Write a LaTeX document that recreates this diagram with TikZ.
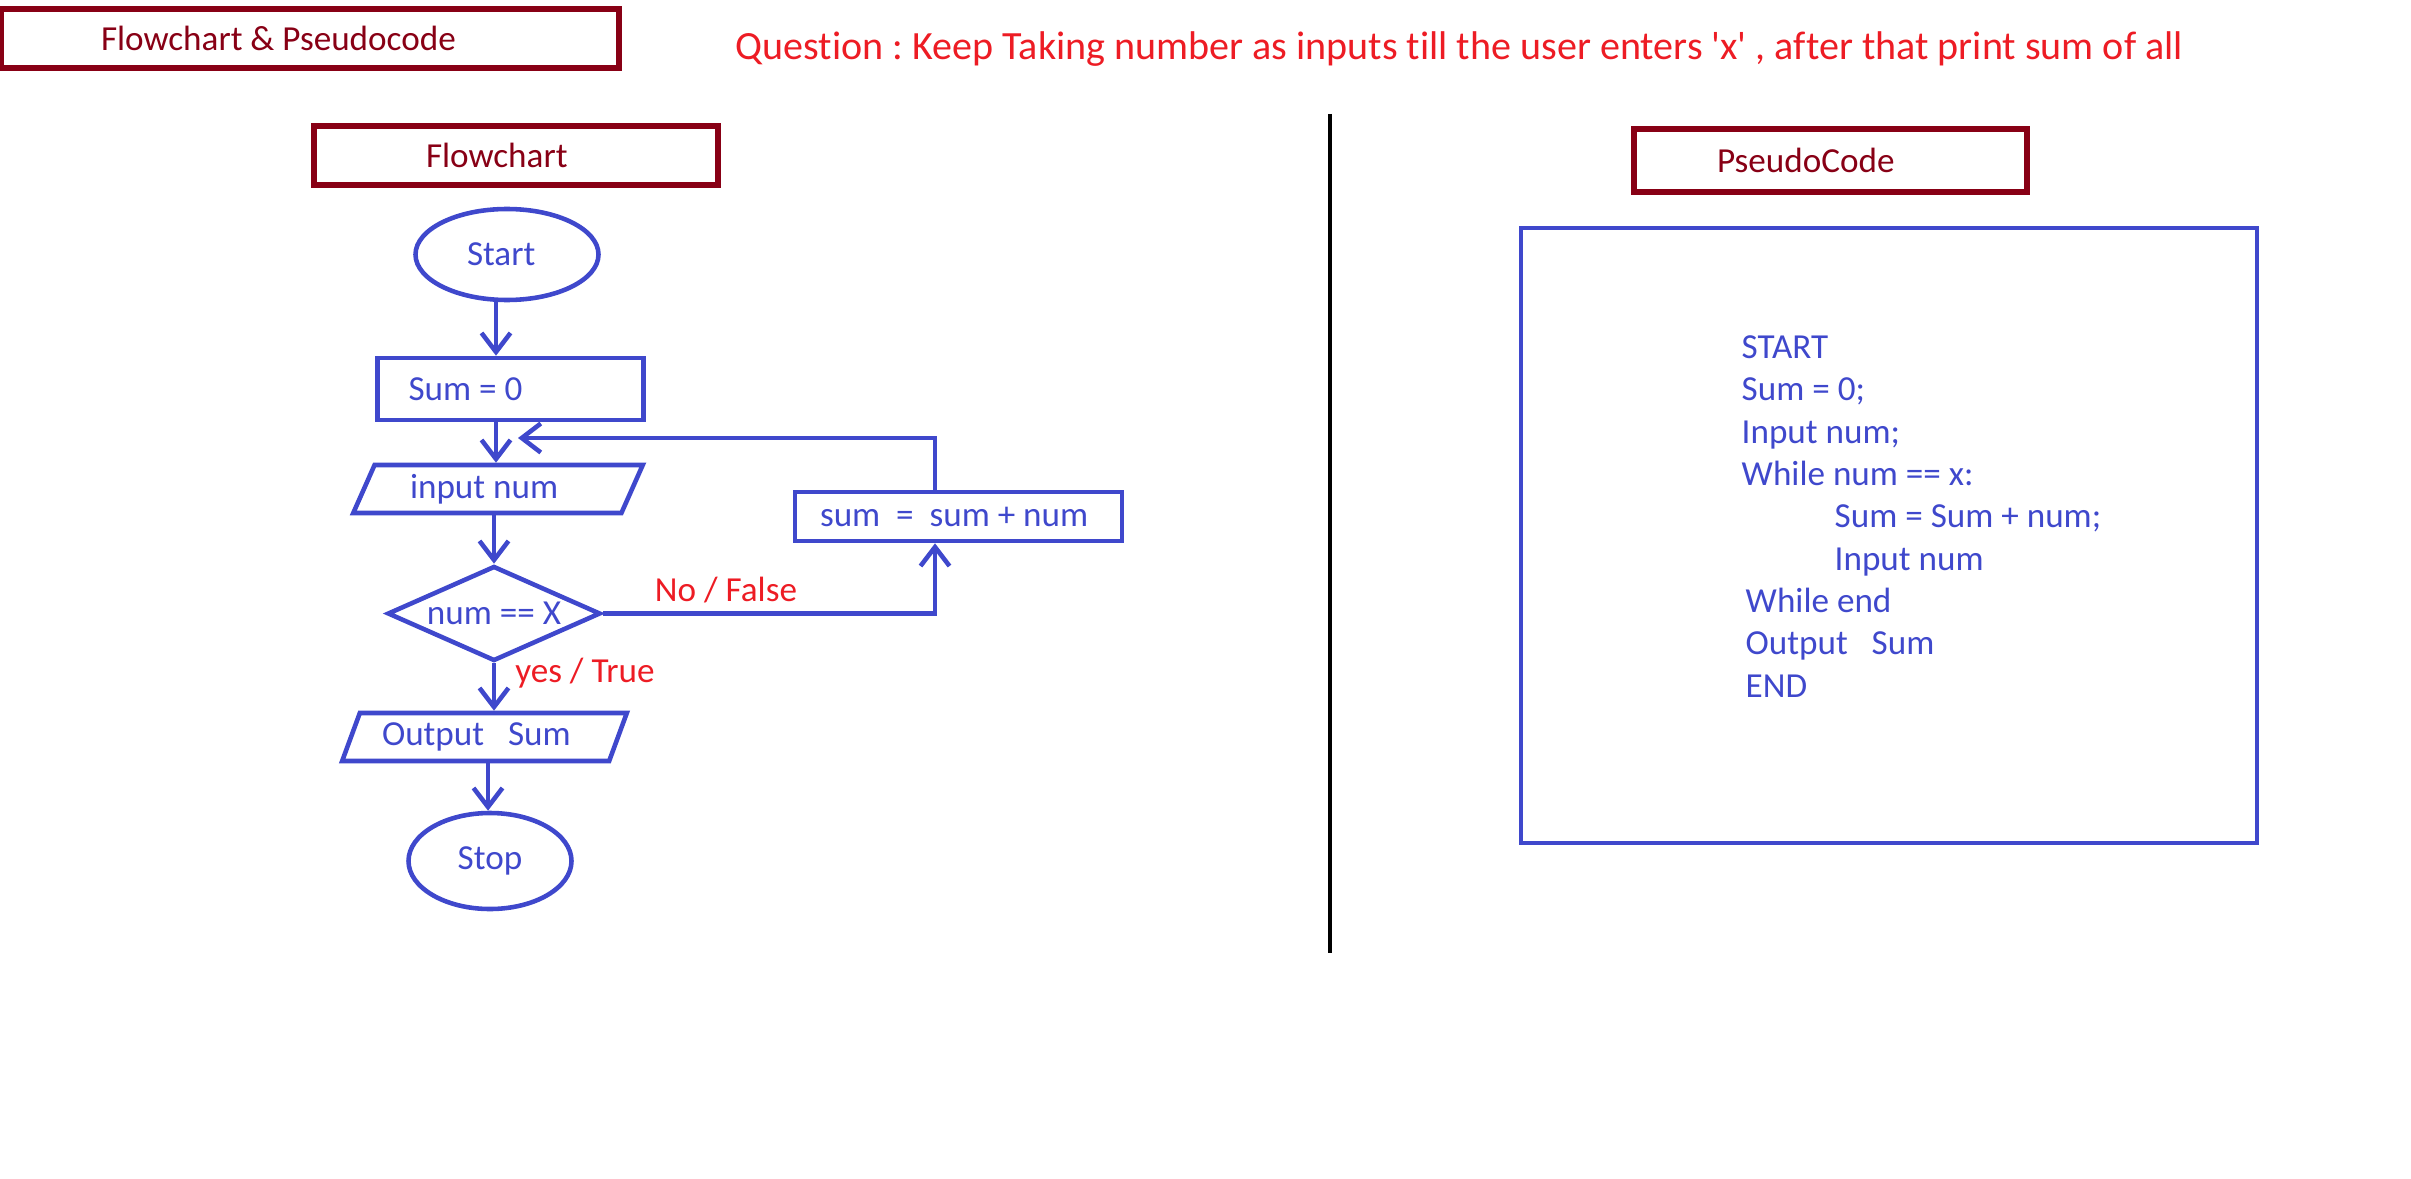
\documentclass[tikz,border=0pt]{standalone}
\usepackage{fontspec}
\setmainfont{Carlito}[Ligatures=NoCommon]
\usepackage{tikz}
\usetikzlibrary{positioning,shapes.geometric,arrows.meta}
\definecolor{fcblue}{RGB}{63,72,204}
\definecolor{hdrred}{RGB}{136,0,21}
\definecolor{lblred}{RGB}{237,28,36}
\frenchspacing
\tikzset{hdr/.style = {rectangle,draw=hdrred,line width=1.6pt,text=hdrred,inner ysep=0pt}}
\tikzset{blk/.style = {rectangle,draw=fcblue,line width=1.3pt,text=fcblue,inner ysep=0pt}}
\tikzset{term/.style = {ellipse,draw=fcblue,line width=1.3pt,text=fcblue,inner sep=0pt}}
\tikzset{io/.style = {trapezium,trapezium left angle=63,trapezium right angle=117,trapezium stretches=true,draw=fcblue,line width=1.3pt,text=fcblue,inner sep=0pt}}
\tikzset{cond/.style = {diamond,aspect=2.24,draw=fcblue,line width=1.3pt,text=fcblue,inner sep=0pt}}
\tikzset{arr/.style = {draw=fcblue,line width=1.3pt,-{Straight Barb[length=1.9mm,width=2.9mm]}}}
\tikzset{lbl/.style = {text=lblred,inner sep=0pt}}

\begin{document}
\begin{tikzpicture}
                    \useasboundingbox (0,0) rectangle (24.11,-11.78);
                    \begin{scope}
                        \node [hdr,inner xsep=1cm,minimum height=0.59cm] (title) at (3.10,-0.385) {\makebox[4.18cm][l]{Flowchart \& Pseudocode}};
                        \node [lbl,anchor=west,font=\fontsize{11.4}{13}\selectfont] (quest) at (7.35,-0.49) {Question : Keep Taking number as inputs till the user enters \textquotesingle x\textquotesingle\ , after that print sum of all};
                        \draw [line width=1.3pt] (13.30,-1.14) -- (13.30,-9.53);
                    \end{scope}
                    \begin{scope}
                        \node [hdr,inner xsep=1.12cm,minimum height=0.59cm] (fchead) at (5.16,-1.555) {\makebox[1.80cm][l]{Flowchart}};

                        \node [term,minimum width=1.83cm,minimum height=0.91cm] (start) at (5.07,-2.545) {\makebox[1.0cm][l]{\hspace*{0.1cm}Start}};
                        \node [blk,inner xsep=0.31cm,minimum height=0.62cm] (sumz) at (5.105,-3.89) {\makebox[2.04cm][l]{Sum = 0}};
                        \node [io,minimum width=2.90cm,minimum height=0.48cm] (inp) at (4.98,-4.89) {\makebox[1.76cm][l]{input num}};
                        \node [cond,minimum width=2.13cm,minimum height=0.95cm] (test) at (4.94,-6.135) {num == X};
                        \node [io,minimum width=2.85cm,minimum height=0.48cm] (outp) at (4.845,-7.37) {\makebox[2.05cm][l]{Output\ \ \ Sum}};
                        \node [term,minimum width=1.63cm,minimum height=0.96cm] (stop) at (4.90,-8.61) {Stop};
                        \node [blk,inner xsep=0.25cm,minimum height=0.49cm] (upd) at (9.585,-5.165) {\makebox[2.77cm][l]{sum\ \ =\ \ sum + num}};
                        \coordinate (back) at (5.18,-4.38);

                        \draw [arr] (start.south -| 4.96,0) -- (sumz.north -| 4.96,0);
                        \draw [arr] (sumz.south -| 4.96,0) -- (inp.north -| 4.96,0);
                        \draw [arr] (inp.south -| test.north) -- (test.north);
                        \draw [arr] (test.south) -- (test.south |- outp.north);
                        \draw [arr] (outp.south -| 4.88,0) -- (stop.north -| 4.88,0);
                        \draw [arr] (test.east) -| ([xshift=-2.35mm]upd.south);
                        \draw [arr] ([xshift=-2.35mm]upd.north) |- (back);

                        \node [lbl] (nolbl) at (7.26,-5.90) {No / False};
                        \node [lbl] (yeslbl) at (5.85,-6.73) {yes / True};
                    \end{scope}
                    \begin{scope}
                        \node [hdr,inner xsep=0.83cm,minimum height=0.63cm] (pchead) at (18.305,-1.605) {\makebox[2.27cm][l]{PseudoCode}};
                        \node [blk,minimum width=7.36cm,minimum height=6.15cm] (pbox) at (18.89,-5.355) {};
                        \node [anchor=north west,inner sep=0pt,align=left,text=fcblue,font=\fontsize{10}{12.05}\selectfont] (pcode) at (17.41,-3.35) {START\\Sum = 0;\\Input num;\\While num == x:\\\hspace*{0.93cm}Sum = Sum + num;\\\hspace*{0.93cm}Input num\\\hspace*{0.04cm}While end\\\hspace*{0.04cm}Output\ \ \ Sum\\\hspace*{0.04cm}END};
                    \end{scope}
                \end{tikzpicture}
\end{document}
